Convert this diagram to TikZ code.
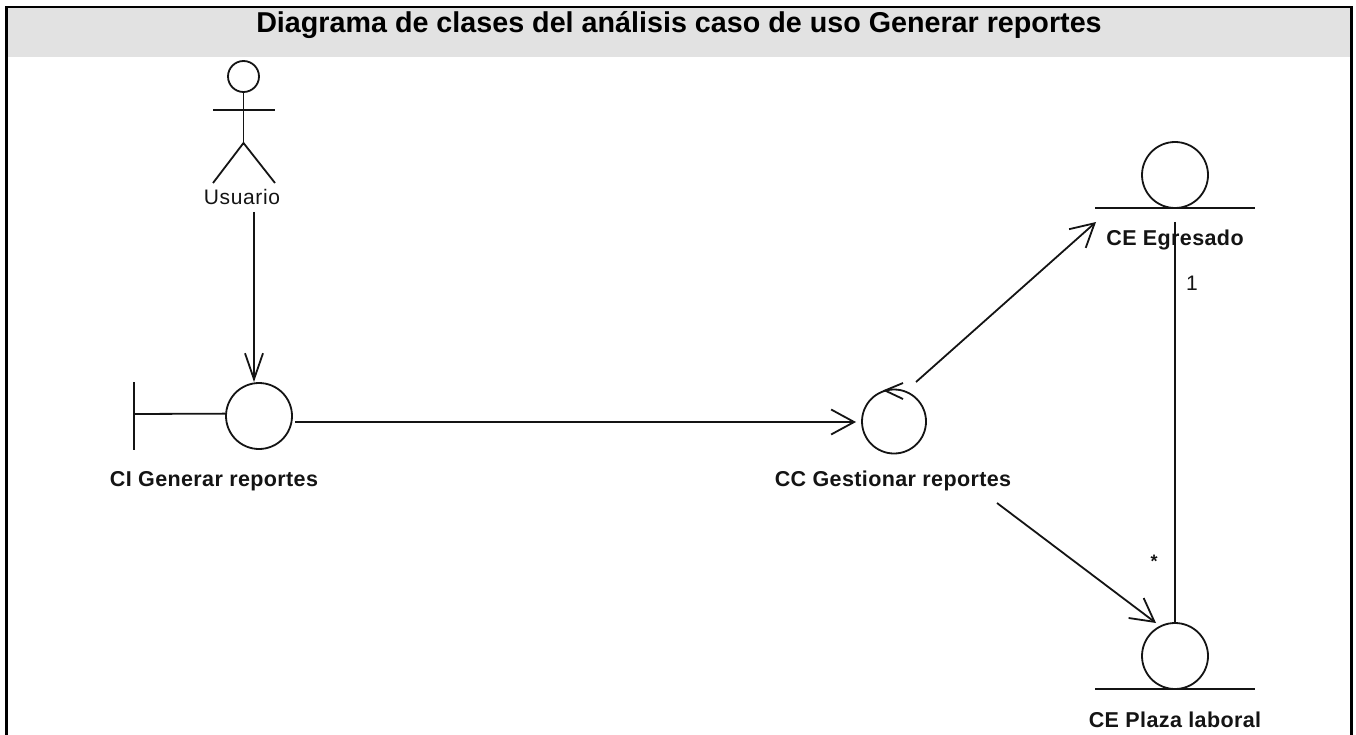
\documentclass[tikz,border=0pt]{standalone}
\usepackage{fontspec}
\setmainfont{Liberation Sans}
\usetikzlibrary{arrows.meta}
\definecolor{headgray}{RGB}{226,226,226}
\definecolor{ink}{RGB}{20,20,20}
\tikzset{
  umlline/.style={draw=ink,line width=1.8pt},
  conn/.style={umlline,-{Straight Barb[length=23pt,width=25pt,line width=1.8pt]}},
  connnarrow/.style={umlline,-{Straight Barb[length=26pt,width=18pt,line width=1.8pt]}},
  umlcircle/.style={circle,draw=ink,line width=1.8pt,inner sep=0pt,fill=none},
  classlabel/.style={font=\fontsize{21.5}{23}\selectfont\bfseries\addfontfeature{LetterSpace=1.8},text=ink,inner sep=0pt,anchor=base},
  plainlabel/.style={font=\fontsize{21}{23}\selectfont\addfontfeature{LetterSpace=3},text=ink,inner sep=0pt,anchor=base},
  titlelabel/.style={font=\fontsize{28.7}{32}\selectfont\bfseries,text=black,inner sep=0pt,anchor=base}
}
\begin{document}
\begin{tikzpicture}[x=1pt,y=-1pt]
\useasboundingbox (0,0) rectangle (1356,735);
\fill[white] (0,0) rectangle (1356,735);
\fill[headgray] (6,7) rectangle (1352,57);
\draw[black,line width=2.5pt] (6.5,735) -- (6.5,7) -- (1351.5,7) -- (1351.5,735);
\node[titlelabel] (title) at (679,33) {Diagrama de clases del análisis caso de uso Generar reportes};

% actor
\node[umlcircle,minimum size=31pt] (head) at (243.5,76.5) {};
\coordinate (hip) at (243.5,143);
\coordinate (armL) at (213,110);
\coordinate (armR) at (275,110);
\coordinate (legL) at (213,183);
\coordinate (legR) at (275,183);
\draw[umlline] (head.south) -- (hip);
\draw[umlline] (armL) -- (armR);
\draw[umlline] (legL) -- (hip) -- (legR);
\node[plainlabel] (usuario) at (242,205) {Usuario};

% interface class
\node[umlcircle,minimum size=66pt] (ci) at (259,416) {};
\coordinate (barT) at (134,382);
\coordinate (barB) at (134,450);
\coordinate (barM) at (134,414);
\draw[umlline] (barT) -- (barB);
\draw[umlline] (barM) -- (ci.176.5);
\node[classlabel] (cilabel) at (214,486) {CI Generar reportes};

% control class
\node[umlcircle,minimum size=64pt] (cc) at (894,421.5) {};
\coordinate (ccTipL) at (885,390.5);
\coordinate (ccB1) at (903,383);
\coordinate (ccB2) at (903,399);
\draw[umlline] (ccB1) -- (ccTipL) -- (ccB2);
\node[classlabel] (cclabel) at (893,486) {CC Gestionar reportes};

% entity classes
\node[umlcircle,minimum size=66pt] (eg) at (1175,175) {};
\coordinate (egL) at (1095,208);
\coordinate (egR) at (1255,208);
\draw[umlline] (egL) -- (egR);
\node[classlabel] (eglabel) at (1175,245) {CE Egresado};

\node[umlcircle,minimum size=66pt] (pl) at (1175,656) {};
\coordinate (plL) at (1095,689);
\coordinate (plR) at (1255,689);
\draw[umlline] (plL) -- (plR);
\node[classlabel] (pllabel) at (1175,727) {CE Plaza laboral};

% connectors
\coordinate (usuarioOut) at (254,212);
\coordinate (ciIn) at (254,382);
\draw[connnarrow] (usuarioOut) -- (ciIn);
\coordinate (ciOut) at (295,422);
\coordinate (ccIn) at (856,422);
\draw[conn] (ciOut) -- (ccIn);
\coordinate (ccOut) at (916,382);
\coordinate (egIn) at (1096,222);
\draw[conn] (ccOut) -- (egIn);
\coordinate (ccOut2) at (997,503);
\coordinate (plIn) at (1156,623);
\draw[conn] (ccOut2) -- (plIn);
\coordinate (assocTop) at (1175,222);
\draw[umlline] (assocTop) -- (pl.north);
\node[plainlabel] (mult1) at (1192,290) {1};
\node[plainlabel,font=\fontsize{18}{20}\selectfont\bfseries,anchor=center] (multStar) at (1154,561) {*};
\end{tikzpicture}
\end{document}
